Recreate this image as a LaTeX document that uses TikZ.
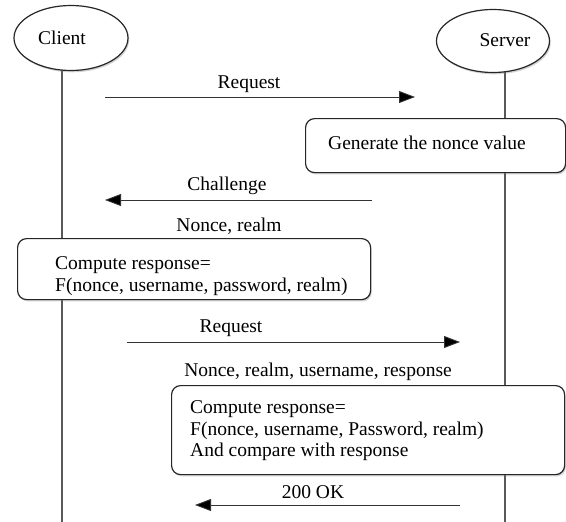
\documentclass[tikz,border=0pt]{standalone}
\usepackage{fontspec}
\setmainfont{Liberation Serif}
\usetikzlibrary{arrows.meta,shadows,shapes.geometric}
\begin{document}
\begin{tikzpicture}[x=1pt,y=-1pt,
  every node/.style={font=\fontsize{19.5}{21.5}\selectfont, text=black},
  sh/.style={drop shadow={shadow xshift=1.2pt,shadow yshift=-1.8pt,opacity=0.35}},
  actor/.style={draw=black!85, line width=1.2pt, ellipse, fill=white, inner sep=0pt, sh},
  life/.style={draw=black!65, line width=1.3pt},
  msg/.style={draw=black!80, line width=0.9pt, -{Triangle[length=16pt,width=12pt,fill=black]}},
  proc/.style={draw=black!85, line width=1.2pt, rounded corners=9pt, fill=white, inner sep=0pt, anchor=north west, sh},
  lbl/.style={inner sep=0pt}
]
\fill[white] (0,0) rectangle (566,522);
\useasboundingbox (0,0) rectangle (566,522);

% lifelines
\coordinate (cTop) at (62,40);
\coordinate (cBot) at (62,522);
\coordinate (sTop) at (505,40);
\coordinate (sBot) at (505,522);
\draw[life] (cTop) -- (cBot);
\draw[life] (sTop) -- (sBot);

% actors
\node[actor, minimum width=114pt, minimum height=65pt] (client) at (71,38) {};
\node[lbl] (clientt) at (62,38) {Client};
\node[actor, minimum width=113pt, minimum height=63pt] (server) at (493,41) {};
\node[lbl] (servert) at (505,40) {Server};

% process boxes
\node[proc, minimum width=260pt, minimum height=54pt] (gen) at (305,118) {};
\node[lbl, anchor=west] (gent) at (328,143) {Generate the nonce value};

\node[proc, minimum width=353pt, minimum height=61pt] (comp1) at (17,238) {};
\node[lbl, anchor=west, align=left] (comp1t) at (55,276) {Compute response=\\F(nonce, username, password, realm)};

\node[proc, minimum width=393pt, minimum height=89pt] (comp2) at (171,385) {};
\node[lbl, anchor=west, align=left] (comp2t) at (190,431) {Compute response=\\F(nonce, username, Password, realm)\\And compare with response};

% messages
\coordinate (m1s) at (105,97);  \coordinate (m1e) at (415,97);
\draw[msg] (m1s) -- (m1e);
\node[lbl] (m1l) at (249,84) {Request};

\coordinate (m2s) at (372,200); \coordinate (m2e) at (105,200);
\draw[msg] (m2s) -- (m2e);
\node[lbl] (m2l) at (227,186) {Challenge};
\node[lbl] (m2p) at (229,226) {Nonce, realm};

\coordinate (m3s) at (127,342); \coordinate (m3e) at (460,342);
\draw[msg] (m3s) -- (m3e);
\node[lbl] (m3l) at (231,328) {Request};
\node[lbl] (m3p) at (318,372) {Nonce, realm, username, response};

\coordinate (m4s) at (460,505); \coordinate (m4e) at (195,505);
\draw[msg] (m4s) -- (m4e);
\node[lbl] (m4l) at (313,492) {200 OK};
\end{tikzpicture}
\end{document}
